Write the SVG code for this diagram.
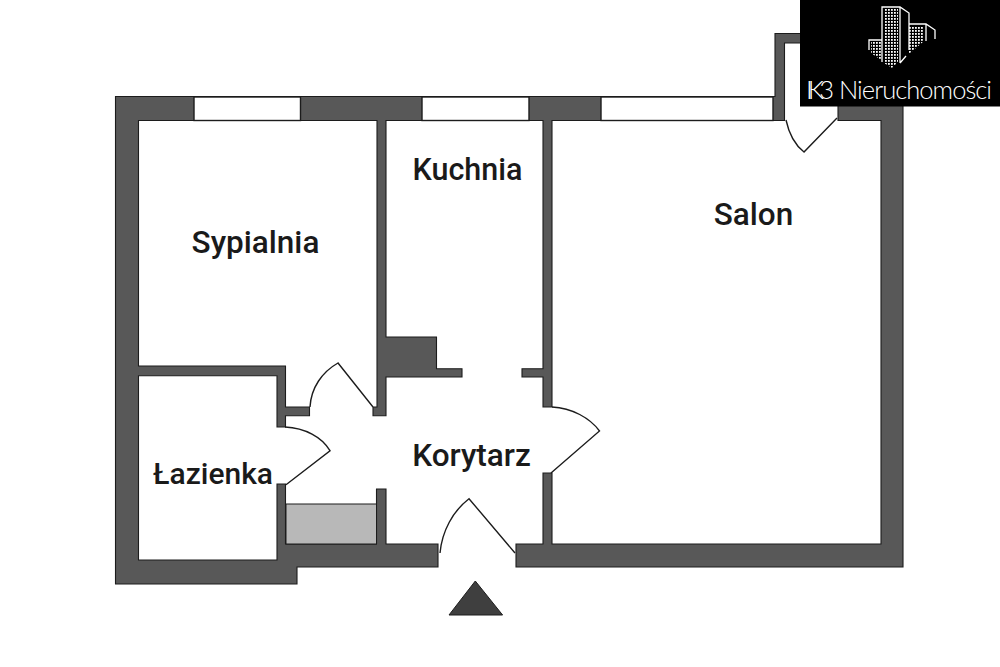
<svg xmlns="http://www.w3.org/2000/svg" width="1000" height="667" viewBox="0 0 1000 667">
<style>
.wall{fill:#585858;stroke:#1c1c1c;stroke-width:1.1;stroke-linejoin:miter}
.win{fill:#fff;stroke:#1c1c1c;stroke-width:1.4}
.door{fill:none;stroke:#1c1c1c;stroke-width:1.4}
.lab{font-family:Roboto,"Open Sans",sans-serif;font-weight:500;fill:#1a1a1a;font-size:31.500px;text-anchor:middle}
.lg{fill:none;stroke:#fff;stroke-width:1.3}
.logo{font-family:Lato,"Open Sans",sans-serif;font-weight:300;fill:#fff;font-size:25.500px}
</style>
<defs>
<pattern id="dots" width="3" height="3" patternUnits="userSpaceOnUse">
<rect width="1.8" height="1.8" fill="#fff"/>
</pattern>
</defs>
<rect width="1000" height="667" fill="#fff"/>
<g id="walls">
<path class="wall" d="M438 567H297V584H115.500V96.500H775V33.500H805V43H784.500V120.500H552V407H543V377H522V368.700H543V120.500H386V337H436.500V368.700H462V377H386V415.700H373V407H377V120.500H138.500V366H285.500V407H309.500V415.700H285.500V427H277V375.700H138.500V560H277V484H285.500V544H376.500V489H386V544H438Z"/>
<path class="wall" d="M516 567V544H543V473H552V544H881V120.500H838V100H903V567Z"/>
</g>
<g id="windows">
<rect class="win" x="194" y="97" width="106.500" height="23.500"/>
<rect class="win" x="422" y="97" width="107" height="23.500"/>
<rect class="win" x="601" y="97" width="172" height="23.500"/>
</g>
<rect id="storage" x="286" y="504" width="90.500" height="40" fill="#b8b8b8" stroke="#1c1c1c" stroke-width="1"/>
<g id="doors">
<path class="door" d="M310 407C311 388 322 372 338 363L373 407"/>
<path class="door" d="M285 427C305 428 322 437 330 450.700L286 484.700"/>
<path class="door" d="M552 407C572 408 590 418 599.500 431L551 473"/>
<path class="door" d="M440 553C442 531 453 511 469 498.700L515 553"/>
<path class="door" d="M786 120C789 134 795 145 804 152L837 118"/>
</g>
<path id="entry" d="M449 615L475.300 581L502.600 615Z" fill="#3f3f3f" stroke="#1c1c1c"/>
<g id="sypialnia"><text class="lab" x="255.500" y="252.500">Sypialnia</text></g>
<g id="kuchnia"><text class="lab" x="467.500" y="180" font-size="30.500" style="font-size:30.500px">Kuchnia</text></g>
<g id="salon"><text class="lab" x="753.500" y="225">Salon</text></g>
<g id="lazienka"><text class="lab" x="213" y="483.500" style="font-size:30px">Łazienka</text></g>
<g id="korytarz"><text class="lab" x="471.500" y="465.500">Korytarz</text></g>
<g id="logo">
<rect x="800" y="0" width="200" height="106.500" fill="#000"/>
<path d="M884 9H898V62L892 68L884 63Z" fill="url(#dots)"/>
<path d="M909 26H924V41L909 54Z" fill="url(#dots)"/>
<path d="M871 42H881V60L871 53Z" fill="url(#dots)"/>
<path class="lg" d="M882 62V7H900L909 13V50M900 7V63M882 40H869V50M909 24H926L935 30V39M926 24V41M900 63L906 56"/>
<text class="logo" x="806" y="98.500"><tspan x="806" y="98.500" textLength="28">IK3</tspan> <tspan x="839" y="98.500" textLength="153">Nieruchomości</tspan></text>
</g>
</svg>
